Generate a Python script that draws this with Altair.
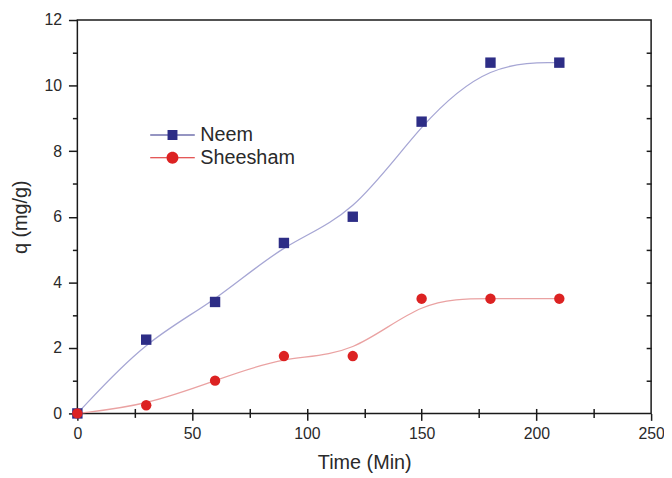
import altair as alt
import pandas as pd

time = [0, 30, 60, 90, 120, 150, 180, 210]
neem = [0, 2.25, 3.4, 5.2, 6.0, 8.9, 10.7, 10.7]
sheesham = [0, 0.25, 1.0, 1.75, 1.75, 3.5, 3.5, 3.5]
series_names = ["Neem", "Sheesham"]
marker_colors = ["#2d2d86", "#dc2222"]
line_colors = ["#a6a6d4", "#eaa2a2"]
x_major = list(range(0, 251, 50))
x_minor = list(range(25, 251, 50))
y_major = list(range(0, 13, 2))
y_minor = list(range(1, 13, 2))
x_all = list(range(25, 250, 25))
y_all = list(range(1, 12, 1))

rows = []
for t, n in zip(time, neem):
    rows.append({"time": t, "q": n, "series": "Neem"})
for t, s in zip(time, sheesham):
    rows.append({"time": t, "q": s, "series": "Sheesham"})
df = pd.DataFrame(rows)

FONT = "Liberation Sans"
TXT = "#2a2a2a"
AX = "#1a1a1a"

xs = alt.Scale(domain=[0, 250], nice=False, zero=False)
ys = alt.Scale(domain=[0, 12], nice=False, zero=False)


def tick_axis(orient, values, size):
    return alt.Axis(orient=orient, values=values, labels=False, title=None, domain=False,
                    tickSize=size, offset=0, grid=False, tickColor=AX, tickWidth=1.5)


def inward_axis(orient, values):
    # mirrored inward ticks drawn as short grid dashes starting at the frame
    return alt.Axis(orient=orient, values=values, labels=False, title=None, domain=False,
                    ticks=False, grid=True, gridColor=AX, gridWidth=1.5, gridDash=[5, 2000])


x_label_axis = alt.Axis(
    orient="bottom", values=x_major, title="Time (Min)", tickSize=7, labelFlush=False,
    tickColor=AX, tickWidth=1.5, domain=False, offset=0,
    labelPadding=5, labelFont=FONT, labelFontSize=16, labelColor=TXT,
    titleFont=FONT, titleFontSize=20, titleFontWeight="normal", titleColor=TXT,
    titlePadding=12, grid=False,
)
y_label_axis = alt.Axis(
    orient="left", values=y_major, title="q (mg/g)", tickSize=9, labelFlush=False,
    tickColor=AX, tickWidth=1.5, domain=False, offset=0,
    labelPadding=7, labelFont=FONT, labelFontSize=16, labelColor=TXT,
    titleFont=FONT, titleFontSize=20, titleFontWeight="normal", titleColor=TXT,
    titlePadding=14, grid=False,
)

lines = alt.Chart(df).mark_line(interpolate="basis", strokeWidth=1.3).encode(
    x=alt.X("time:Q", scale=xs, axis=tick_axis("bottom", x_minor, 4)),
    y=alt.Y("q:Q", scale=ys, axis=tick_axis("left", y_minor, 5)),
    color=alt.Color("series:N", scale=alt.Scale(domain=series_names, range=line_colors), legend=None),
)

points = alt.Chart(df).mark_point(filled=True, opacity=1, size=110).encode(
    x=alt.X("time:Q", scale=xs, axis=inward_axis("top", x_all)),
    y=alt.Y("q:Q", scale=ys, axis=inward_axis("right", y_all)),
    color=alt.Color("series:N", scale=alt.Scale(domain=series_names, range=marker_colors), legend=None),
    shape=alt.Shape("series:N", scale=alt.Scale(domain=series_names, range=["square", "circle"]), legend=None),
)

sq = "M-2.25,-0.05H-0.5V0.05H-2.25ZM0.5,-0.05H2.25V0.05H0.5ZM-0.5,-0.5H0.5V0.5H-0.5Z"
ci = ("M-2.25,-0.05H-0.6V0.05H-2.25ZM0.6,-0.05H2.25V0.05H0.6Z"
      "M-0.6,0A0.6,0.6 0 1,0 0.6,0A0.6,0.6 0 1,0 -0.6,0Z")

legend = alt.Legend(
    orient="none", legendX=86, legendY=106, title=None, direction="vertical",
    labelFont=FONT, labelFontSize=20, labelColor=TXT, symbolSize=400,
    symbolStrokeWidth=0, labelOffset=18, rowPadding=3,
)

legend_layer = alt.Chart(df).transform_filter("false").transform_calculate(
    legend_series="datum.series"
).mark_point(filled=True, opacity=1).encode(
    x=alt.X("time:Q", scale=xs, axis=x_label_axis),
    y=alt.Y("q:Q", scale=ys, axis=y_label_axis),
    color=alt.Color("legend_series:N", scale=alt.Scale(domain=series_names, range=marker_colors), legend=legend),
    shape=alt.Shape("legend_series:N", scale=alt.Scale(domain=series_names, range=[sq, ci]), legend=legend),
)

chart = alt.layer(lines, points, legend_layer).resolve_scale(
    color="independent", shape="independent"
).resolve_axis(x="independent", y="independent").properties(
    width=579, height=397,
    padding={"left": 70, "top": 10, "right": 13, "bottom": 60},
    autosize=alt.AutoSizeParams(type="none"),
    background="white",
).configure_view(stroke=AX, strokeWidth=1.5)

chart.save("out.html", embed_options={"renderer": "svg", "actions": False})
